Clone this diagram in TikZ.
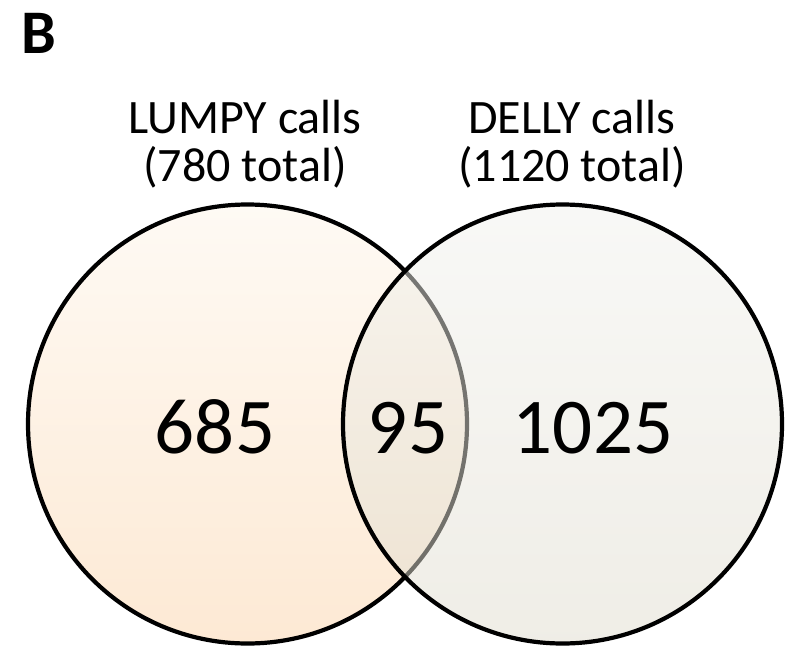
\documentclass[tikz,border=0pt]{standalone}
\usepackage{fontspec}
\setmainfont{Carlito}
\usetikzlibrary{
  positioning,
  calc,
}
\definecolor{ink}{HTML}{000000}
\definecolor{lumpytop}{HTML}{FEFAF4}
\definecolor{lumpybot}{HTML}{FDE9D4}
\definecolor{dellytop}{HTML}{F2F2EE}
\definecolor{dellybot}{HTML}{E0DCCE}
\tikzset{
  venn/.style={
    x=1pt, y=-1pt,
    line join=round,
    line cap=round,
  },
  setdisc/.style={
    circle,
    draw=ink,
    line width=4.2pt,
    minimum size=439pt,
    inner sep=0pt,
  },
  setlab/.style={
    font=\fontsize{48}{48}\selectfont,
    text=ink,
    align=center,
    inner sep=0pt,
  },
  count/.style={
    font=\fontsize{79}{80}\selectfont,
    text=ink,
    inner sep=0pt,
    anchor=base,
  },
}
\begin{document}
\begin{tikzpicture}[venn]
  \useasboundingbox (0,0) rectangle (799,661);

  \node[font=\fontsize{62}{62}\selectfont\bfseries, anchor=base west, inner sep=0pt]
    (panel) at (21,53) {B};

  % the two sets; DELLY sits on top, half see-through
  \node[setdisc, top color=lumpytop, bottom color=lumpybot] (lumpy) at (247.5,424) {};
  \node[setdisc, top color=dellytop, bottom color=dellybot, fill opacity=0.5]
    (delly) at (562.5,424) {};

  % anchor=base is the baseline of the lower line
  \node[setlab, anchor=base] (lumpyLabel) at (245,181)
    {LUMPY calls\\(780 total)};
  \node[setlab, anchor=base] (dellyLabel) at (572,181)
    {DELLY calls\\(1120 total)};

  \node[count] (onlyLumpy) at (215,453) {685};
  \node[count] (both) at (408,453) {95};
  \node[count] (onlyDelly) at (593,453) {1025};
\end{tikzpicture}
\end{document}
